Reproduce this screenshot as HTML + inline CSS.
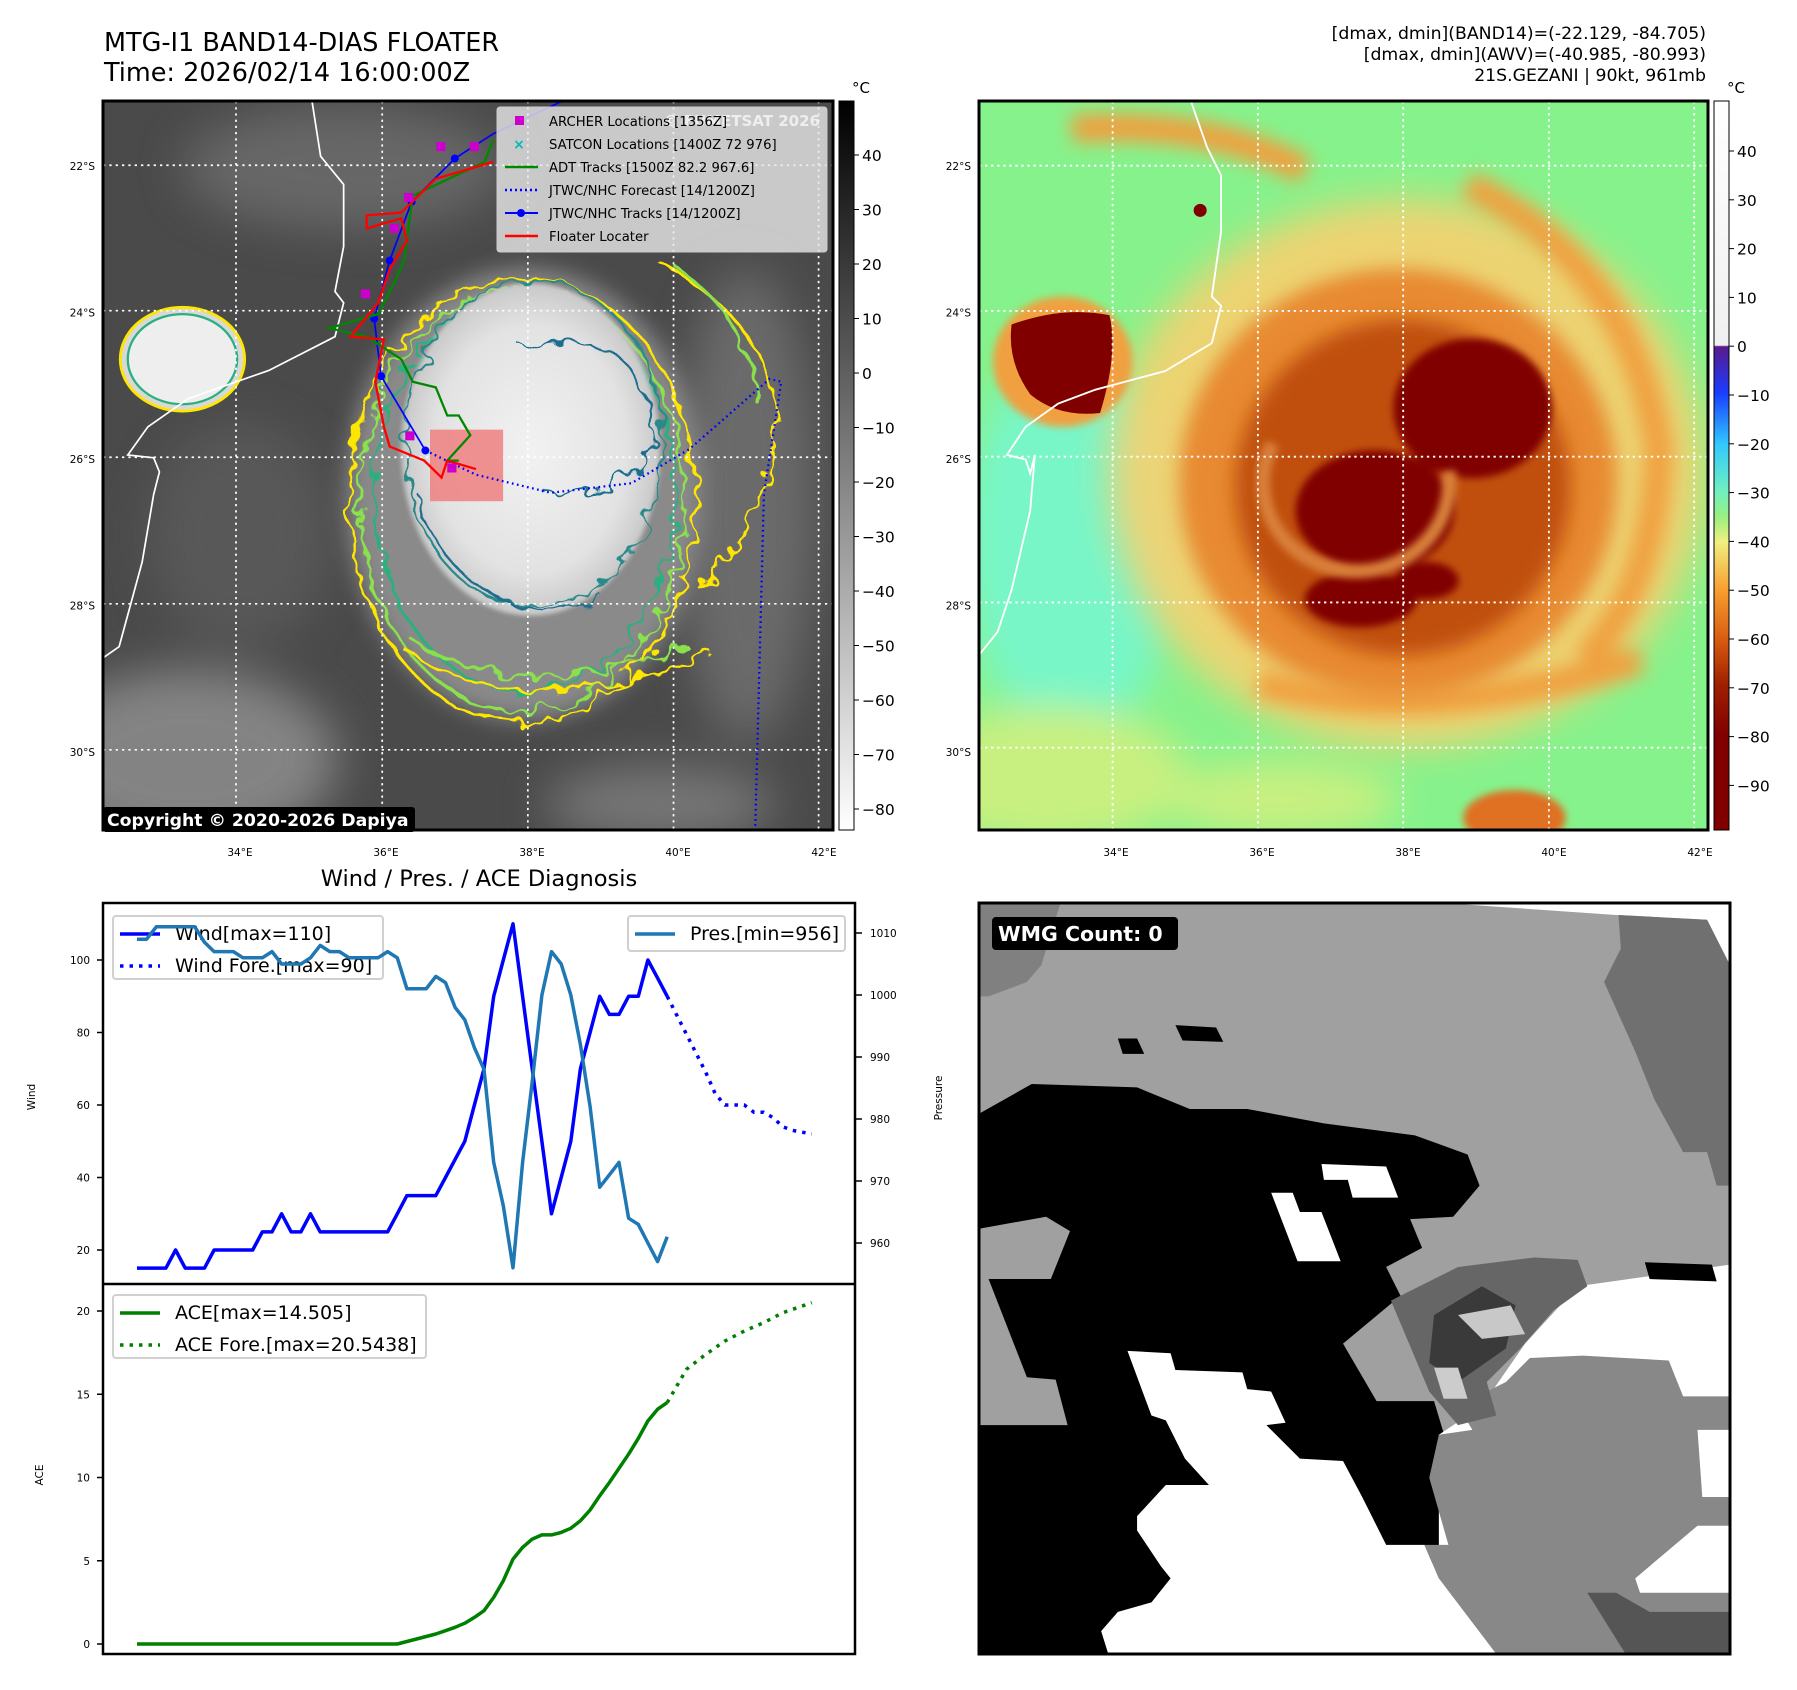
<!DOCTYPE html>
<html><head><meta charset="utf-8">
<style>
html,body{margin:0;padding:0;background:#fff;}
svg{display:block;font-family:"DejaVu Sans","Liberation Sans",sans-serif;}
</style></head>
<body>
<svg id="fig" width="1797" height="1690" viewBox="0 0 1797 1690" xmlns="http://www.w3.org/2000/svg">
<defs>
  <filter id="b4" x="-30%" y="-30%" width="160%" height="160%"><feGaussianBlur stdDeviation="4"/></filter>
  <filter id="b8" x="-30%" y="-30%" width="160%" height="160%"><feGaussianBlur stdDeviation="8"/></filter>
  <filter id="b20" x="-30%" y="-30%" width="160%" height="160%"><feGaussianBlur stdDeviation="20"/></filter>
  <filter id="b40" x="-50%" y="-50%" width="200%" height="200%"><feGaussianBlur stdDeviation="40"/></filter>
  <filter id="wob" x="-10%" y="-10%" width="120%" height="120%"><feTurbulence type="fractalNoise" baseFrequency="0.03" numOctaves="2" seed="3"/><feDisplacementMap in="SourceGraphic" scale="40"/></filter>
  <linearGradient id="cb1" x1="0" y1="0" x2="0" y2="1"><stop offset="0" stop-color="#000"/><stop offset="1" stop-color="#fff"/></linearGradient>
  <linearGradient id="cb2" x1="0" y1="0" x2="0" y2="1">
    <stop offset="0" stop-color="#ffffff"/><stop offset="0.335" stop-color="#f0f0f0"/>
    <stop offset="0.337" stop-color="#5a1a8c"/><stop offset="0.40" stop-color="#1a3cff"/>
    <stop offset="0.47" stop-color="#30c8ff"/><stop offset="0.535" stop-color="#70f0c0"/>
    <stop offset="0.57" stop-color="#98f080"/><stop offset="0.605" stop-color="#f0f080"/>
    <stop offset="0.67" stop-color="#f8a030"/><stop offset="0.74" stop-color="#d85a10"/>
    <stop offset="0.80" stop-color="#a02000"/><stop offset="0.87" stop-color="#800000"/><stop offset="1" stop-color="#800000"/>
  </linearGradient>
  <radialGradient id="cloud" cx="0.5" cy="0.5" r="0.5"><stop offset="0" stop-color="#f2f2f2"/><stop offset="0.75" stop-color="#e2e2e2"/><stop offset="1" stop-color="#c8c8c8"/></radialGradient>
  <clipPath id="clipL"><rect x="182" y="182" width="1268" height="1295"/></clipPath>
  <clipPath id="clipR"><rect x="0" y="0" width="1568" height="1568"/></clipPath>
</defs>

<!-- titles -->
<text x="104" y="51" font-size="25.5">MTG-I1 BAND14-DIAS FLOATER</text>
<text x="104" y="81" font-size="25.5">Time: 2026/02/14 16:00:00Z</text>
<g font-size="17.3" text-anchor="end">
  <text x="1706" y="39">[dmax, dmin](BAND14)=(-22.129, -84.705)</text>
  <text x="1706" y="60">[dmax, dmin](AWV)=(-40.985, -80.993)</text>
  <text x="1706" y="81">21S.GEZANI | 90kt, 961mb</text>
</g>

<!-- LEFT MAP -->
<g>
 <g transform="translate(103,101) scale(0.5757,0.5637) translate(-182,-182)" clip-path="url(#clipL)">
  <rect x="182" y="182" width="1268" height="1295" fill="#4a4a4a"/>
  <g filter="url(#b40)" opacity="0.9">
    <ellipse cx="330" cy="1350" rx="260" ry="160" fill="#8a8a8a"/>
    <ellipse cx="600" cy="300" rx="280" ry="110" fill="#6a6a6a"/>
    <ellipse cx="1300" cy="900" rx="120" ry="420" fill="#6e6e6e"/>
    <ellipse cx="420" cy="950" rx="160" ry="200" fill="#5a5a5a"/>
    <ellipse cx="1150" cy="1430" rx="200" ry="70" fill="#7a7a7a"/>
  </g>
  <ellipse cx="915" cy="880" rx="310" ry="400" fill="#8a8a8a" filter="url(#b20)"/>
  <g filter="url(#wob)" fill="none" stroke-width="5">
    <ellipse cx="910" cy="890" rx="300" ry="395" stroke="#ffe600"/>
    <ellipse cx="910" cy="890" rx="282" ry="375" stroke="#8be04e"/>
    <ellipse cx="915" cy="880" rx="262" ry="350" stroke="#2ab07f"/>
    <path d="M1150,470 Q1320,560 1350,720 Q1360,900 1220,1050" stroke="#ffe600"/>
    <path d="M1180,480 Q1300,560 1320,720" stroke="#8be04e"/>
    <path d="M700,1150 Q900,1300 1240,1160" stroke="#ffe600"/>
    <path d="M720,1140 Q900,1260 1200,1150" stroke="#8be04e"/>
  </g>
  <ellipse cx="925" cy="800" rx="225" ry="295" fill="url(#cloud)" filter="url(#b4)"/>
  <g filter="url(#wob)" fill="none" stroke-width="4">
    <ellipse cx="930" cy="790" rx="225" ry="290" stroke="#2a8a8a"/>
    <path d="M910,620 Q1100,560 1140,760 Q1130,880 950,880" stroke="#1e6e8e"/>
    <path d="M730,880 Q760,1020 900,1080 Q1000,1100 1050,1060" stroke="#1e6e8e"/>
  </g>
  <!-- island -->
  <ellipse cx="320" cy="640" rx="108" ry="92" fill="#d8d8d8" stroke="#ffe600" stroke-width="5"/>
  <ellipse cx="320" cy="640" rx="95" ry="80" fill="#eee" stroke="#2ab07f" stroke-width="4"/>
  <!-- coast -->
  <path d="M545,182 L560,280 L600,330 L600,440 L585,520 L600,540 L585,600 L470,660 L330,710 L260,760 L225,810 L270,815 L280,840 L270,880 L250,1000 L210,1150 L182,1170" fill="none" stroke="#fff" stroke-width="3"/>
  <!-- grid -->
  <g stroke="#fff" stroke-width="3" stroke-dasharray="4,7">
    <line x1="413" y1="182" x2="413" y2="1477"/><line x1="667" y1="182" x2="667" y2="1477"/><line x1="920" y1="182" x2="920" y2="1477"/><line x1="1173" y1="182" x2="1173" y2="1477"/><line x1="1425" y1="182" x2="1425" y2="1477"/>
    <line x1="182" y1="296" x2="1450" y2="296"/><line x1="182" y1="554" x2="1450" y2="554"/><line x1="182" y1="814" x2="1450" y2="814"/><line x1="182" y1="1074" x2="1450" y2="1074"/><line x1="182" y1="1333" x2="1450" y2="1333"/>
  </g>
  <rect x="750" y="765" width="127" height="127" fill="#f08080" opacity="0.85"/>
  <polyline points="980,182 860,240 793,284 718,361 680,465 653,568 665,670 742,802" fill="none" stroke="#00f" stroke-width="3"/>
  <g fill="#00f"><circle cx="793" cy="284" r="7"/><circle cx="718" cy="361" r="7"/><circle cx="680" cy="465" r="7"/><circle cx="653" cy="568" r="7"/><circle cx="665" cy="670" r="7"/><circle cx="742" cy="802" r="7"/></g>
  <polyline points="742,802 830,845 960,877 1100,860 1200,800 1340,675 1360,680 1330,880 1315,1470" fill="none" stroke="#00f" stroke-width="4" stroke-dasharray="3,6"/>
  <polyline points="860,250 845,290 720,350 705,465 690,500 660,560 575,585 640,600 700,640 720,680 760,690 780,740 800,740 820,775 780,820 800,820" fill="none" stroke="#080" stroke-width="4"/>
  <polyline points="860,290 760,320 700,380 640,385 640,408 700,390 710,430 680,480 660,540 612,600 670,605 655,680 670,760 680,795 740,820 770,850 780,820 830,835" fill="none" stroke="#f00" stroke-width="4"/>
  <g fill="#c0c"><rect x="761" y="255" width="16" height="16"/><rect x="819" y="255" width="16" height="16"/><rect x="705" y="345" width="16" height="16"/><rect x="680" y="400" width="16" height="16"/><rect x="630" y="516" width="16" height="16"/><rect x="707" y="768" width="16" height="16"/><rect x="780" y="825" width="16" height="16"/></g>
 </g>
 <rect x="103" y="101" width="730" height="729" fill="none" stroke="#000" stroke-width="3"/>
 <!-- legend -->
 <g>
  <rect x="497" y="107" width="330" height="145" fill="#e8e8e8" fill-opacity="0.8" stroke="#ccc" rx="3"/>
  <text x="820" y="126" font-size="15" font-weight="bold" fill="#fff" text-anchor="end" opacity="0.7">© EUMETSAT 2026</text>
  <rect x="515" y="116" width="9" height="9" fill="#c0c"/>
  <text x="519" y="149" font-size="14" fill="#0bb" text-anchor="middle" font-weight="bold">×</text>
  <line x1="505" y1="167" x2="538" y2="167" stroke="#080" stroke-width="2.5"/>
  <line x1="505" y1="190" x2="538" y2="190" stroke="#00f" stroke-width="2.5" stroke-dasharray="2,3"/>
  <line x1="505" y1="213" x2="538" y2="213" stroke="#00f" stroke-width="2"/><circle cx="521" cy="213" r="4" fill="#00f"/>
  <line x1="505" y1="236" x2="538" y2="236" stroke="#f00" stroke-width="2.5"/>
  <g font-size="13.2" fill="#000">
   <text x="549" y="126">ARCHER Locations [1356Z]</text>
   <text x="549" y="149">SATCON Locations [1400Z 72 976]</text>
   <text x="549" y="172">ADT Tracks [1500Z 82.2 967.6]</text>
   <text x="549" y="195">JTWC/NHC Forecast [14/1200Z]</text>
   <text x="549" y="218">JTWC/NHC Tracks [14/1200Z]</text>
   <text x="549" y="241">Floater Locater</text>
  </g>
 </g>
 <g>
  <rect x="103" y="807" width="312" height="25" fill="#000" rx="3"/>
  <text x="107" y="826" font-size="17.3" font-weight="bold" fill="#fff">Copyright © 2020-2026 Dapiya</text>
 </g>
 <rect x="839" y="101" width="15" height="729" fill="url(#cb1)" stroke="#000" stroke-width="1"/>
 <text x="852" y="93" font-size="15">°C</text>
</g>

<!-- RIGHT MAP -->
<g>
 <g transform="translate(979,101) scale(0.4656)" clip-path="url(#clipR)">
  <rect x="0" y="0" width="1568" height="1568" fill="#86f28c"/>
  <g filter="url(#b40)">
    <ellipse cx="200" cy="950" rx="230" ry="420" fill="#78f6c8"/>
    <ellipse cx="150" cy="1450" rx="300" ry="150" fill="#c8f080"/>
    <ellipse cx="650" cy="1500" rx="250" ry="80" fill="#c8f080"/>
  </g>
  <ellipse cx="920" cy="800" rx="640" ry="590" fill="#f8d070" filter="url(#b40)" opacity="0.9"/>
  <g filter="url(#b20)" fill="none" stroke="#f0a040" stroke-width="60">
    <path d="M1050,180 Q1400,350 1460,750 Q1450,1050 1300,1200"/>
    <path d="M600,1250 Q950,1350 1420,1200"/>
    <path d="M200,60 Q500,40 700,150"/>
  </g>
  <ellipse cx="900" cy="820" rx="470" ry="460" fill="#e88a30" filter="url(#b20)"/>
  <ellipse cx="910" cy="830" rx="360" ry="360" fill="#c0500a" filter="url(#b20)"/>
  <g fill="#800000" filter="url(#b8)">
    <ellipse cx="1060" cy="660" rx="170" ry="150"/>
    <ellipse cx="850" cy="880" rx="170" ry="130"/>
    <ellipse cx="820" cy="1070" rx="120" ry="60"/>
    <ellipse cx="960" cy="1030" rx="70" ry="40"/>
  </g>
  <ellipse cx="810" cy="820" rx="200" ry="190" fill="none" stroke="#d8803a" stroke-width="30" filter="url(#b8)" stroke-dasharray="700,500"/>
  <ellipse cx="868" cy="845" rx="78" ry="65" fill="#800000"/>
  <ellipse cx="1150" cy="1540" rx="110" ry="60" fill="#e07020" filter="url(#b8)"/>
  <ellipse cx="180" cy="560" rx="150" ry="140" fill="#f0a040" filter="url(#b8)"/>
  <path d="M70,480 Q180,440 280,460 Q300,540 260,670 Q170,680 110,630 Q60,560 70,480Z" fill="#800000"/>
  <circle cx="475" cy="235" r="14" fill="#800000"/>
  <path d="M455,0 L490,100 L520,160 L520,280 L500,420 L520,440 L500,520 L400,580 L250,620 L170,650 L100,700 L60,760 L100,770 L110,800 L120,760 L110,880 L70,1050 L40,1140 L0,1190" fill="none" stroke="#fff" stroke-width="4"/>
  <g stroke="#fff" stroke-width="4" stroke-dasharray="5,8">
    <line x1="287" y1="0" x2="287" y2="1568"/><line x1="599" y1="0" x2="599" y2="1568"/><line x1="911" y1="0" x2="911" y2="1568"/><line x1="1224" y1="0" x2="1224" y2="1568"/><line x1="1536" y1="0" x2="1536" y2="1568"/>
    <line x1="0" y1="139" x2="1568" y2="139"/><line x1="0" y1="451" x2="1568" y2="451"/><line x1="0" y1="764" x2="1568" y2="764"/><line x1="0" y1="1077" x2="1568" y2="1077"/><line x1="0" y1="1389" x2="1568" y2="1389"/>
  </g>
 </g>
 <rect x="979" y="101" width="729" height="729" fill="none" stroke="#000" stroke-width="3"/>
 <rect x="1714" y="101" width="15" height="729" fill="url(#cb2)" stroke="#000" stroke-width="1"/>
 <text x="1727" y="93" font-size="15">°C</text>
</g>
<g id="mapTicks" font-size="11"></g>

<!-- BOTTOM RIGHT WMG -->
<g>
 <g transform="translate(979,903) scale(0.479)">
  <rect x="0" y="0" width="1568" height="1568" fill="#a0a0a0"/>
  <polygon points="970,0 1568,0 1568,130 1520,35 1330,25" fill="#fff"/>
  <polygon points="1335,25 1520,35 1568,130 1568,590 1540,590 1520,520 1470,520 1410,410 1370,310 1305,165 1340,95" fill="#707070"/>
  <polygon points="0,0 170,0 130,130 100,165 20,195 0,195" fill="#808080"/>
  <polygon points="0,440 110,378 330,385 440,430 560,430 720,460 910,485 1020,525 1045,590 990,655 900,660 925,720 850,760 880,820 760,920 830,1040 950,1040 980,1140 960,1200 980,1340 930,1400 900,1568 0,1568" fill="#000"/>
  <polygon points="0,680 140,655 190,685 150,785 20,785 100,990 160,995 185,1090 0,1090" fill="#a0a0a0"/>
  <polygon points="310,935 400,940 410,975 550,980 560,1015 610,1020 640,1085 600,1090 670,1160 760,1165 800,1240 850,1340 930,1340 960,1410 1080,1568 270,1568 255,1520 290,1480 360,1460 400,1410 380,1385 330,1310 330,1280 390,1215 480,1215 430,1160 390,1080 360,1070" fill="#fff"/>
  <polygon points="715,545 850,550 875,615 780,615 770,578 720,578" fill="#fff"/>
  <polygon points="610,605 655,605 670,645 715,645 755,748 665,748" fill="#fff"/>
  <polygon points="960,1110 1050,1050 1140,920 1250,800 1568,755 1568,1568 960,1568" fill="#fff"/>
  <polygon points="940,1200 960,1110 1030,1100 1000,1050 1100,1000 1150,950 1260,945 1440,955 1470,1030 1568,1030 1568,1100 1500,1100 1510,1240 1568,1240 1568,1300 1500,1300 1370,1410 1380,1440 1568,1440 1568,1568 1080,1568 960,1410 930,1340 980,1340" fill="#888"/>
  <polygon points="1270,1440 1330,1440 1400,1480 1568,1480 1568,1568 1350,1568" fill="#555"/>
  <polygon points="1390,750 1530,755 1540,790 1400,785" fill="#000"/>
  <polygon points="290,283 330,283 345,315 300,315" fill="#000"/>
  <polygon points="410,255 495,260 510,290 425,287" fill="#000"/>
  <polygon points="860,830 1000,760 1160,740 1250,745 1270,800 1200,850 1130,930 1060,1000 1080,1070 1000,1090 940,1020" fill="#666"/>
  <polygon points="950,860 1050,800 1120,840 1100,930 1000,1000 940,960" fill="#3a3a3a"/>
  <polygon points="1000,860 1110,840 1140,900 1050,910" fill="#c8c8c8"/>
  <polygon points="950,970 1000,970 1020,1035 970,1035" fill="#ccc"/>
  <polygon points="0,0 1568,0 1568,1568 0,1568" fill="none" stroke="#000" stroke-width="6"/>
 </g>
 <rect x="979" y="903" width="751" height="751" fill="none" stroke="#000" stroke-width="3"/>
 <rect x="992" y="917" width="186" height="33" rx="4" fill="#000"/>
 <text x="998" y="941" font-size="20.5" font-weight="bold" fill="#fff">WMG Count: 0</text>
</g>

<!-- BOTTOM LEFT CHART -->
<text x="479" y="886" font-size="22.5" text-anchor="middle">Wind / Pres. / ACE Diagnosis</text>
<g>
 <rect x="113" y="916" width="270" height="63" rx="3" fill="#fff" fill-opacity="0.8" stroke="#d0d0d0" stroke-width="2"/>
 <line x1="120" y1="934" x2="160" y2="934" stroke="#00f" stroke-width="3.5"/>
 <line x1="120" y1="966" x2="160" y2="966" stroke="#00f" stroke-width="3.5" stroke-dasharray="3.5,6"/>
 <text x="175" y="940" font-size="19">Wind[max=110]</text>
 <text x="175" y="972" font-size="19">Wind Fore.[max=90]</text>
</g>
<g>
 <rect x="628" y="916" width="217" height="35" rx="3" fill="#fff" fill-opacity="0.8" stroke="#d0d0d0" stroke-width="2"/>
 <line x1="635" y1="934" x2="675" y2="934" stroke="#1f77b4" stroke-width="3.5"/>
 <text x="690" y="940" font-size="19">Pres.[min=956]</text>
</g>
<g>
 <rect x="113" y="1295" width="313" height="63" rx="3" fill="#fff" fill-opacity="0.8" stroke="#d0d0d0" stroke-width="2"/>
 <line x1="120" y1="1313" x2="160" y2="1313" stroke="green" stroke-width="3.5"/>
 <line x1="120" y1="1345" x2="160" y2="1345" stroke="green" stroke-width="3.5" stroke-dasharray="3.5,6"/>
 <text x="175" y="1319" font-size="19">ACE[max=14.505]</text>
 <text x="175" y="1351" font-size="19">ACE Fore.[max=20.5438]</text>
</g>
<g id="chart"></g>
<rect x="103" y="903" width="752" height="751" fill="none" stroke="#000" stroke-width="2.5"/>
<line x1="103" y1="1284" x2="855" y2="1284" stroke="#000" stroke-width="2.5"/>
<g font-size="10.5">
 <text transform="translate(35,1097) rotate(-90)" text-anchor="middle">Wind</text>
 <text transform="translate(942,1098) rotate(-90)" text-anchor="middle">Pressure</text>
 <text transform="translate(43,1475) rotate(-90)" text-anchor="middle">ACE</text>
</g>

<script>
// ---- chart data ----
const windObs = [15,15,15,15,20,15,15,15,20,20,20,20,20,25,25,30,25,25,30,25,25,25,25,25,25,25,25,30,35,35,35,35,40,45,50,60,70,90,100,110,90,70,50,30,40,50,70,80,90,85,85,90,90,100,95,90];
const windForeIdx = [55,57,59,60,61,62,63,64,65,66,67,68,69,70];
const windFore = [90,79.5,69,63,60,60,60,58,58,56.5,54,53,52.5,52];
const presObs = [1009,1009,1011,1011,1011,1011,1011,1008.5,1007,1007,1007,1006,1006,1006,1007,1005,1005,1005,1006,1008,1007,1007,1006,1006,1006,1006,1007,1006,1001,1001,1001,1003,1002,998,996,991.5,988,973,966,956,973,986,1000,1007,1005,1000,992,982,969,971,973,964,963,960,957,961];
const aceObs = [0,0,0,0,0,0,0,0,0,0,0,0,0,0,0,0,0,0,0,0,0,0,0,0,0,0,0,0,0.15,0.3,0.45,0.6,0.8,1.0,1.25,1.6,2.0,2.8,3.8,5.1,5.8,6.3,6.55,6.55,6.7,6.95,7.4,8.05,8.9,9.7,10.55,11.4,12.35,13.4,14.1,14.5];
const aceForeIdx = [55,57,59,61,63,65,67,70];
const aceFore = [14.5,16.5,17.4,18.2,18.8,19.3,19.9,20.5];
const windTicks = [20,40,60,80,100];
const presTicks = [960,970,980,990,1000,1010];
const aceTicks = [0,5,10,15,20];
const colorbar1Ticks = [40,30,20,10,0,-10,-20,-30,-40,-50,-60,-70,-80];
const colorbar2Ticks = [40,30,20,10,0,-10,-20,-30,-40,-50,-60,-70,-80,-90];
const lonTicks = ["34°E","36°E","38°E","40°E","42°E"];
const latTicks = ["22°S","24°S","26°S","28°S","30°S"];

// ---- axes ----
const NS = "http://www.w3.org/2000/svg";
const xs = i => 137 + i * 9.64;
const wy = v => 1250 - (v - 20) * 3.625;
const py = p => 1243 - (p - 960) * 6.2;
const ay = a => 1644 - a * 16.65;
const chart = document.getElementById('chart');
function mk(tag, attrs, parent){ const e=document.createElementNS(NS,tag); for(const k in attrs) e.setAttribute(k,attrs[k]); (parent||chart).appendChild(e); return e; }
function pts(idx, vals, yf){ return vals.map((v,k)=>xs(idx?idx[k]:k).toFixed(1)+','+yf(v).toFixed(1)).join(' '); }

let l;
l = mk('polyline',{points:pts(null,windObs,wy),fill:'none',stroke:'#00f','stroke-width':3.5,'stroke-linejoin':'round'});


l = mk('polyline',{points:pts(windForeIdx,windFore,wy),fill:'none',stroke:'#00f','stroke-width':3.5,'stroke-dasharray':'3.5,6'});


l = mk('polyline',{points:pts(null,presObs,py),fill:'none',stroke:'#1f77b4','stroke-width':3.5,'stroke-linejoin':'round'});


l = mk('polyline',{points:pts(null,aceObs,ay),fill:'none',stroke:'green','stroke-width':3.5,'stroke-linejoin':'round'});


l = mk('polyline',{points:pts(aceForeIdx,aceFore,ay),fill:'none',stroke:'green','stroke-width':3.5,'stroke-dasharray':'3.5,6'});



function tick(x1,x2,y,label,tx,anchor,name){
  const t = mk('line',{x1:x1,x2:x2,y1:y,y2:y,stroke:'#000','stroke-width':1.5});
  
  
  const s = mk('text',{x:tx,y:y+4,'font-size':10.5,'text-anchor':anchor});
  s.textContent = label;
  
  
}
windTicks.forEach(v=>tick(97,103,wy(v),v,90,'end','wind'));
presTicks.forEach(v=>tick(855,862,py(v),v,870,'start','pressure'));
aceTicks.forEach(v=>tick(97,103,ay(v),v,90,'end','ace'));

// ---- map ticks ----
const mt = document.getElementById('mapTicks');
colorbar1Ticks.forEach(v=>{
  const y = 155 + (40 - v) * 5.45;
  mk('line',{x1:854,x2:859,y1:y,y2:y,stroke:'#000'},mt);
  const s = mk('text',{x:862,y:y+6,'font-size':15.5},mt);
  s.textContent = v < 0 ? '\u2212' + (-v) : v;
  
  
});
colorbar2Ticks.forEach(v=>{
  const y = 151 + (40 - v) * 4.88;
  mk('line',{x1:1729,x2:1734,y1:y,y2:y,stroke:'#000'},mt);
  const s = mk('text',{x:1737,y:y+6,'font-size':15.5},mt);
  s.textContent = v < 0 ? '\u2212' + (-v) : v;
  
  
});
lonTicks.forEach((t,k)=>{
  [0,876].forEach(off=>{
    const s = mk('text',{x:240+k*146+off,y:856,'font-size':10.5,'text-anchor':'middle'},mt);
    s.textContent = t;
    
    
  });
});
latTicks.forEach((t,k)=>{
  [0,876].forEach(off=>{
    const s = mk('text',{x:95+off,y:170+k*146.5,'font-size':10.5,'text-anchor':'end'},mt);
    s.textContent = t;
    
    
  });
});
</script>
</svg>
</body></html>
